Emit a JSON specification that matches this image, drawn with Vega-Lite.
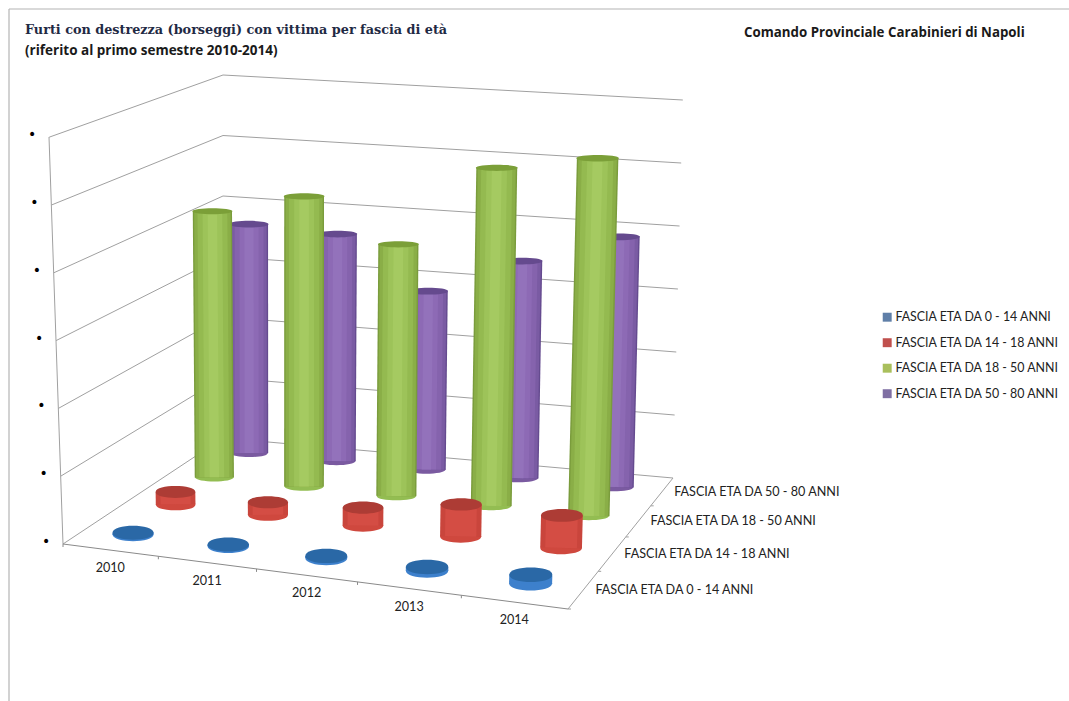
{"$schema":"https://vega.github.io/schema/vega-lite/v6.json","width":1069,"height":701,"padding":0,"autosize":{"type":"none"},"background":"#ffffff",
"title":{"text":"Furti con destrezza (borseggi) con vittima per fascia di età","subtitle":"(riferito al primo semestre 2010-2014)","anchor":"start","frame":"group","orient":"top","offset":0,"dx":25,"dy":57,"font":"DejaVu Serif","fontSize":12.8,"fontWeight":"bold","color":"#1f2a44","subtitleFont":"Open Sans","subtitleFontSize":13.5,"subtitleFontWeight":"bold","subtitleColor":"#1a1a1a","subtitlePadding":7},
"config":{"view":{"stroke":null},"text":{"font":"Lato","fontSize":12.6,"color":"#222222"},"legend":{"labelFont":"Lato","labelFontSize":12.4,"labelColor":"#222222"}},
"datasets":{
"cyl":[
{"year":2010,"fascia":"FASCIA ETA DA 0 - 14 ANNI","value":2},{"year":2011,"fascia":"FASCIA ETA DA 0 - 14 ANNI","value":2},{"year":2012,"fascia":"FASCIA ETA DA 0 - 14 ANNI","value":3},{"year":2013,"fascia":"FASCIA ETA DA 0 - 14 ANNI","value":5},{"year":2014,"fascia":"FASCIA ETA DA 0 - 14 ANNI","value":12},
{"year":2010,"fascia":"FASCIA ETA DA 14 - 18 ANNI","value":19},{"year":2011,"fascia":"FASCIA ETA DA 14 - 18 ANNI","value":19},{"year":2012,"fascia":"FASCIA ETA DA 14 - 18 ANNI","value":27},{"year":2013,"fascia":"FASCIA ETA DA 14 - 18 ANNI","value":48},{"year":2014,"fascia":"FASCIA ETA DA 14 - 18 ANNI","value":48},
{"year":2010,"fascia":"FASCIA ETA DA 18 - 50 ANNI","value":421},{"year":2011,"fascia":"FASCIA ETA DA 18 - 50 ANNI","value":455},{"year":2012,"fascia":"FASCIA ETA DA 18 - 50 ANNI","value":391},{"year":2013,"fascia":"FASCIA ETA DA 18 - 50 ANNI","value":520},{"year":2014,"fascia":"FASCIA ETA DA 18 - 50 ANNI","value":545},
{"year":2010,"fascia":"FASCIA ETA DA 50 - 80 ANNI","value":372},{"year":2011,"fascia":"FASCIA ETA DA 50 - 80 ANNI","value":366},{"year":2012,"fascia":"FASCIA ETA DA 50 - 80 ANNI","value":285},{"year":2013,"fascia":"FASCIA ETA DA 50 - 80 ANNI","value":344},{"year":2014,"fascia":"FASCIA ETA DA 50 - 80 ANNI","value":393}],
"levels":[{"level":0},{"level":1},{"level":2},{"level":3},{"level":4},{"level":5},{"level":6}],
"years":[{"year":2010},{"year":2011},{"year":2012},{"year":2013},{"year":2014}],
"fasce":[{"fascia":"FASCIA ETA DA 0 - 14 ANNI","j":0},{"fascia":"FASCIA ETA DA 14 - 18 ANNI","j":1},{"fascia":"FASCIA ETA DA 18 - 50 ANNI","j":2},{"fascia":"FASCIA ETA DA 50 - 80 ANNI","j":3}]},
"encoding":{"x":{"field":"x1","type":"quantitative","scale":{"domain":[0,1069],"nice":false,"zero":false},"axis":null},"y":{"field":"y1","type":"quantitative","scale":{"domain":[701,0],"nice":false,"zero":false},"axis":null}},
"layer":[
{"data":{"values":[{"edge":"top"},{"edge":"left"}]},"transform":[{"calculate":"9","as":"x1"},{"calculate":"9","as":"y1"},{"calculate":"datum.edge=='top'?1069:9","as":"x2"},{"calculate":"datum.edge=='top'?9:701","as":"y2"}],"mark":{"type":"rule","stroke":"#b4b4b4","strokeWidth":1.2},"encoding":{"x2":{"field":"x2"},"y2":{"field":"y2"}}},
{"data":{"name":"levels"},"transform":[{"calculate":"63-2.305*datum.level","as":"x1"},{"calculate":"544-67.8*datum.level","as":"y1"},{"calculate":"223","as":"x2"},{"calculate":"438-60.5*datum.level","as":"y2"}],"mark":{"type":"rule","stroke":"#a0a0a0","strokeWidth":1},"encoding":{"x2":{"field":"x2"},"y2":{"field":"y2"}}},
{"data":{"name":"levels"},"transform":[{"calculate":"223","as":"x1"},{"calculate":"438-60.5*datum.level","as":"y1"},{"calculate":"673+1.638*datum.level","as":"x2"},{"calculate":"478-63*datum.level","as":"y2"}],"mark":{"type":"rule","stroke":"#a0a0a0","strokeWidth":1},"encoding":{"x2":{"field":"x2"},"y2":{"field":"y2"}}},
{"data":{"name":"levels"},"transform":[{"filter":"datum.level==0"},{"calculate":"63","as":"x1"},{"calculate":"544","as":"y1"},{"calculate":"49","as":"x2"},{"calculate":"137","as":"y2"}],"mark":{"type":"rule","stroke":"#a0a0a0","strokeWidth":1},"encoding":{"x2":{"field":"x2"},"y2":{"field":"y2"}}},
{"data":{"name":"levels"},"transform":[{"filter":"datum.level==0"},{"calculate":"63","as":"x1"},{"calculate":"544","as":"y1"},{"calculate":"568","as":"x2"},{"calculate":"609","as":"y2"}],"mark":{"type":"rule","stroke":"#8a8a8a","strokeWidth":1},"encoding":{"x2":{"field":"x2"},"y2":{"field":"y2"}}},
{"data":{"name":"levels"},"transform":[{"filter":"datum.level==0"},{"calculate":"568","as":"x1"},{"calculate":"609","as":"y1"},{"calculate":"673","as":"x2"},{"calculate":"478","as":"y2"}],"mark":{"type":"rule","stroke":"#a0a0a0","strokeWidth":1},"encoding":{"x2":{"field":"x2"},"y2":{"field":"y2"}}},
{"data":{"name":"levels"},"transform":[{"calculate":"63-2.305*datum.level-17","as":"x1"},{"calculate":"544-67.8*datum.level-2","as":"y1"},{"calculate":"'•'","as":"t"}],"mark":{"type":"text","align":"center","baseline":"middle","font":"DejaVu Sans","fontSize":14,"color":"#000000"},"encoding":{"text":{"field":"t"}}},
{"data":{"name":"years"},"transform":[{"calculate":"(datum.year-2010+0.5)/5","as":"u"},{"calculate":"datum.u-0.07*datum.u*(1-datum.u)","as":"up"},{"calculate":"(1-datum.up)*63+datum.up*568","as":"x1"},{"calculate":"(1-datum.up)*544+datum.up*609+18","as":"y1"}],"mark":{"type":"text","align":"center","baseline":"middle"},"encoding":{"text":{"field":"year","type":"nominal"}}},
{"data":{"name":"years"},"transform":[{"calculate":"(datum.year-2010)/5","as":"u"},{"calculate":"datum.u-0.07*datum.u*(1-datum.u)","as":"up"},{"calculate":"(1-datum.up)*63+datum.up*568","as":"x1"},{"calculate":"(1-datum.up)*544+datum.up*609","as":"y1"},{"calculate":"datum.y1+3","as":"y2"}],"mark":{"type":"rule","stroke":"#8a8a8a","strokeWidth":1},"encoding":{"y2":{"field":"y2"}}},
{"data":{"name":"fasce"},"transform":[{"calculate":"(datum.j+0.5)/4","as":"v"},{"calculate":"datum.v+0.2*datum.v*(1-datum.v)","as":"vp"},{"calculate":"(1-datum.vp)*568+datum.vp*673+12","as":"x1"},{"calculate":"(1-datum.vp)*609+datum.vp*478","as":"y1"}],"mark":{"type":"text","align":"left","baseline":"middle"},"encoding":{"text":{"field":"fascia","type":"nominal"}}},
{"data":{"name":"fasce"},"transform":[{"calculate":"datum.j/4","as":"v"},{"calculate":"datum.v+0.2*datum.v*(1-datum.v)","as":"vp"},{"calculate":"(1-datum.vp)*568+datum.vp*673","as":"x1"},{"calculate":"(1-datum.vp)*609+datum.vp*478","as":"y1"},{"calculate":"datum.x1+3","as":"x2"}],"mark":{"type":"rule","stroke":"#a0a0a0","strokeWidth":1},"encoding":{"x2":{"field":"x2"}}},
{"data":{"values":[{"t":"Comando Provinciale Carabinieri di Napoli"}]},"transform":[{"calculate":"744","as":"x1"},{"calculate":"33","as":"y1"}],"mark":{"type":"text","align":"left","baseline":"middle","font":"Open Sans","fontSize":13.3,"fontWeight":"bold","color":"#1a1a1a"},"encoding":{"text":{"field":"t"}}},
{"data":{"name":"cyl"},"transform":[
{"calculate":"(datum.year-2010+0.5)/5","as":"u"},
{"calculate":"(indexof(['FASCIA ETA DA 0 - 14 ANNI','FASCIA ETA DA 14 - 18 ANNI','FASCIA ETA DA 18 - 50 ANNI','FASCIA ETA DA 50 - 80 ANNI'],datum.fascia)+0.5)/4","as":"v"},
{"calculate":"datum.u-0.07*datum.u*(1-datum.u)","as":"up"},
{"calculate":"datum.v+0.2*datum.v*(1-datum.v)","as":"vp"},
{"calculate":"(1-datum.vp)*((1-datum.up)*63+datum.up*568)+datum.vp*((1-datum.up)*223+datum.up*673)","as":"x1"},
{"calculate":"(1-datum.vp)*((1-datum.up)*544+datum.up*609)+datum.vp*((1-datum.up)*438+datum.up*478)","as":"y1"},
{"calculate":"(1-datum.vp)*((1-datum.up)*67.8+datum.up*72)+datum.vp*((1-datum.up)*60.5+datum.up*63)","as":"h"},
{"calculate":"(1-datum.vp)*((1-datum.up)*-0.034+datum.up*0.035)+datum.vp*((1-datum.up)*0+datum.up*0.026)","as":"lean"},
{"calculate":"datum.value/100","as":"lv"},
{"calculate":"datum.y1-datum.lv*datum.h","as":"y2"},
{"calculate":"datum.x1+datum.lean*datum.lv*datum.h","as":"x2"},
{"calculate":"41.5+2.5*datum.up-5*datum.vp","as":"w"},
{"calculate":"datum.w+0.2*datum.lv","as":"s1"},
{"calculate":"0.93*datum.s1","as":"s2"},
{"calculate":"0.76*datum.s1","as":"s3"},
{"calculate":"0.5*datum.s1","as":"s4"},
{"calculate":"0.24*datum.s1","as":"s5"},
{"calculate":"datum.w*datum.w","as":"sb"},
{"calculate":"(datum.w+0.4*datum.lv)*(datum.w+0.4*datum.lv)","as":"st"}],
"layer":[
{"transform":[{"filter":"datum.fascia=='FASCIA ETA DA 50 - 80 ANNI'"}],"layer":[
{"mark":{"type":"point","filled":true,"opacity":1,"color":"#7a5aa0","shape":"M-1,0C-1,-0.293 1,-0.293 1,0C1,0.293 -1,0.293 -1,0Z"},"encoding":{"size":{"field":"sb","type":"quantitative","scale":null}}},
{"mark":{"type":"rule","stroke":"#654b8f"},"encoding":{"x2":{"field":"x2"},"y2":{"field":"y2"},"size":{"field":"s1","type":"quantitative","scale":null}}},
{"mark":{"type":"rule","stroke":"#7a5ba3"},"encoding":{"x2":{"field":"x2"},"y2":{"field":"y2"},"size":{"field":"s2","type":"quantitative","scale":null}}},
{"mark":{"type":"rule","stroke":"#8563ad"},"encoding":{"x2":{"field":"x2"},"y2":{"field":"y2"},"size":{"field":"s3","type":"quantitative","scale":null}}},
{"mark":{"type":"rule","stroke":"#8d6ab5"},"encoding":{"x2":{"field":"x2"},"y2":{"field":"y2"},"size":{"field":"s4","type":"quantitative","scale":null}}},
{"mark":{"type":"rule","stroke":"#9372bb"},"encoding":{"x2":{"field":"x2"},"y2":{"field":"y2"},"size":{"field":"s5","type":"quantitative","scale":null}}},
{"transform":[{"calculate":"datum.x2","as":"x1"},{"calculate":"datum.y2","as":"y1"}],"mark":{"type":"point","filled":true,"opacity":1,"color":"#654a8e","shape":"M-1,0C-1,-0.227 1,-0.227 1,0C1,0.227 -1,0.227 -1,0Z"},"encoding":{"size":{"field":"st","type":"quantitative","scale":null}}}]},
{"transform":[{"filter":"datum.fascia=='FASCIA ETA DA 18 - 50 ANNI'"}],"layer":[
{"mark":{"type":"point","filled":true,"opacity":1,"color":"#93bd52","shape":"M-1,0C-1,-0.293 1,-0.293 1,0C1,0.293 -1,0.293 -1,0Z"},"encoding":{"size":{"field":"sb","type":"quantitative","scale":null}}},
{"mark":{"type":"rule","stroke":"#7a9c3c"},"encoding":{"x2":{"field":"x2"},"y2":{"field":"y2"},"size":{"field":"s1","type":"quantitative","scale":null}}},
{"mark":{"type":"rule","stroke":"#8aae47"},"encoding":{"x2":{"field":"x2"},"y2":{"field":"y2"},"size":{"field":"s2","type":"quantitative","scale":null}}},
{"mark":{"type":"rule","stroke":"#94ba50"},"encoding":{"x2":{"field":"x2"},"y2":{"field":"y2"},"size":{"field":"s3","type":"quantitative","scale":null}}},
{"mark":{"type":"rule","stroke":"#9dc359"},"encoding":{"x2":{"field":"x2"},"y2":{"field":"y2"},"size":{"field":"s4","type":"quantitative","scale":null}}},
{"mark":{"type":"rule","stroke":"#a5ca61"},"encoding":{"x2":{"field":"x2"},"y2":{"field":"y2"},"size":{"field":"s5","type":"quantitative","scale":null}}},
{"transform":[{"calculate":"datum.x2","as":"x1"},{"calculate":"datum.y2","as":"y1"}],"mark":{"type":"point","filled":true,"opacity":1,"color":"#7b9f38","shape":"M-1,0C-1,-0.2 1,-0.2 1,0C1,0.2 -1,0.2 -1,0Z"},"encoding":{"size":{"field":"st","type":"quantitative","scale":null}}}]},
{"transform":[{"filter":"datum.fascia=='FASCIA ETA DA 14 - 18 ANNI'"}],"layer":[
{"mark":{"type":"point","filled":true,"opacity":1,"color":"#cf483e","shape":"M-1,0C-1,-0.4 1,-0.4 1,0C1,0.4 -1,0.4 -1,0Z"},"encoding":{"size":{"field":"sb","type":"quantitative","scale":null}}},
{"mark":{"type":"rule","stroke":"#c9453c"},"encoding":{"x2":{"field":"x2"},"y2":{"field":"y2"},"size":{"field":"s1","type":"quantitative","scale":null}}},
{"mark":{"type":"rule","stroke":"#d44d44"},"encoding":{"x2":{"field":"x2"},"y2":{"field":"y2"},"size":{"field":"s3","type":"quantitative","scale":null}}},
{"transform":[{"calculate":"datum.x2","as":"x1"},{"calculate":"datum.y2","as":"y1"}],"mark":{"type":"point","filled":true,"opacity":1,"color":"#ad3c35","shape":"M-1,0C-1,-0.4 1,-0.4 1,0C1,0.4 -1,0.4 -1,0Z"},"encoding":{"size":{"field":"st","type":"quantitative","scale":null}}}]},
{"transform":[{"filter":"datum.fascia=='FASCIA ETA DA 0 - 14 ANNI'"}],"layer":[
{"mark":{"type":"point","filled":true,"opacity":1,"color":"#3d80cc","shape":"M-1,0C-1,-0.453 1,-0.453 1,0C1,0.453 -1,0.453 -1,0Z"},"encoding":{"size":{"field":"sb","type":"quantitative","scale":null}}},
{"mark":{"type":"rule","stroke":"#3d80cc"},"encoding":{"x2":{"field":"x2"},"y2":{"field":"y2"},"size":{"field":"s1","type":"quantitative","scale":null}}},
{"transform":[{"calculate":"datum.x2","as":"x1"},{"calculate":"datum.y2","as":"y1"}],"mark":{"type":"point","filled":true,"opacity":1,"color":"#2a68a6","shape":"M-1,0C-1,-0.453 1,-0.453 1,0C1,0.453 -1,0.453 -1,0Z"},"encoding":{"size":{"field":"st","type":"quantitative","scale":null}}}]},
{"mark":{"type":"square","size":0,"opacity":1},"encoding":{"color":{"field":"fascia","type":"nominal","scale":{"domain":["FASCIA ETA DA 0 - 14 ANNI","FASCIA ETA DA 14 - 18 ANNI","FASCIA ETA DA 18 - 50 ANNI","FASCIA ETA DA 50 - 80 ANNI"],"range":["#5f7fa8","#c0504d","#a9bf5c","#7f6fa3"]},"legend":{"title":null,"orient":"none","legendX":881,"legendY":311,"symbolType":"square","symbolSize":80,"symbolOpacity":1,"labelOffset":2,"rowPadding":12.5,"padding":0,"labelLimit":300}}}}
]}
]}
